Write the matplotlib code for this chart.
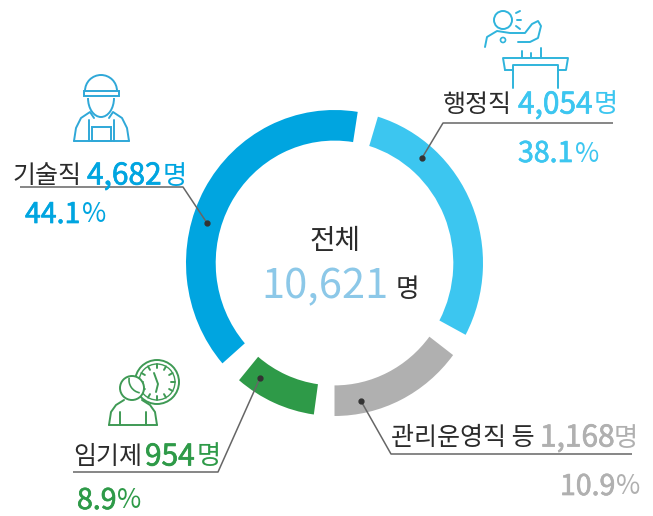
import numpy as np
import matplotlib
matplotlib.use("Agg")
import matplotlib.pyplot as plt
import matplotlib.patheffects as pe
from matplotlib.patches import Circle, Arc, Rectangle

plt.rcParams['font.family'] = ['Noto Sans CJK KR', 'DejaVu Sans']

# arcs are not to scale in the original, spans are read off the picture (degrees)
categories = ["행정직", "관리운영직 등", "임기제", "기술직"]
counts = ["4,054", "1,168", "954", "4,682"]
percents = ["38.1", "10.9", "8.9", "44.1"]
arc_spans = [101, 53, 32, 140]
gap_spans = [9, 8, 9, 8]
colors = ["#3CC6F0", "#B0B0B0", "#2E9A48", "#00A5E0"]
total_title = "전체"
total_count = "10,621"
unit = "명"

W, H = 653, 516
fig = plt.figure(figsize=(W / 100, H / 100), dpi=100)

# ring is slightly taller than wide in the original, so it gets its own axes
ring = fig.add_axes([186 / W, 1 - 416 / H, 297 / W, 306 / H])
spans, span_colors = [], []
for s, g, col in zip(arc_spans, gap_spans, colors):
    spans += [s, g]
    span_colors += [col, "none"]
ring.pie(spans, colors=span_colors, startangle=73, counterclock=False, radius=1,
         wedgeprops=dict(width=0.2, linewidth=0))
ring.set_aspect("auto")
ring.set_xlim(-1, 1)
ring.set_ylim(-1, 1)
ring.axis("off")

# everything else is in pixel coords
ax = fig.add_axes([0, 0, 1, 1])
ax.set_xlim(0, W)
ax.set_ylim(H, 0)
ax.axis("off")

DARK = "#2b2b2b"


def thick(color, w=0.5):
    return [pe.withStroke(linewidth=w, foreground=color)]


def label(x_name, x_num, x_unit, y, name, num, color):
    ax.text(x_name, y, name, fontsize=18, color=DARK, va="center", ha="left")
    ax.text(x_num, y, num, fontsize=21.5, color=color, va="center", ha="left", path_effects=thick(color))
    ax.text(x_unit, y, unit, fontsize=19, color=color, va="center", ha="left", fontweight="light")


def pct(x, y, value, color):
    t = ax.text(x, y, value, fontsize=20.5, color=color, va="center", ha="left", path_effects=thick(color))
    bb = t.get_window_extent(fig.canvas.get_renderer())
    ax.text(x + bb.width + 1, y, "%", fontsize=19, color=color, va="center", ha="left", fontweight="light")


def leader(xs, ys):
    ax.plot(xs, ys, color="#666666", lw=1.1, solid_capstyle="butt")
    ax.plot(xs[-1], ys[-1], "o", color="#333333", ms=3.5)


label(443, 518, 594, 105, categories[0], counts[0], colors[0])
pct(518, 154, percents[0], colors[0])
leader([613, 443, 422], [123, 123, 158])

label(391, 540, 614, 438, categories[1], counts[1], colors[1])
pct(560, 487, percents[1], colors[1])
leader([632, 391, 361], [454, 454, 401])

label(73, 145, 197, 457, categories[2], counts[2], colors[2])
pct(77, 501, percents[2], colors[2])
leader([73, 218, 260], [472, 472, 378])

label(12, 87, 163, 176, categories[3], counts[3], colors[3])
pct(25, 215, percents[3], colors[3])
leader([20, 183, 207], [187, 187, 223])

ax.text(335, 241, total_title, fontsize=20, color=DARK, ha="center", va="center")
ax.text(261, 287, total_count, fontsize=30, color="#8CC8E8", ha="left", va="center")
ax.text(396, 290, unit, fontsize=18.5, color=DARK, ha="left", va="center")


def icon_line(xs, ys, color):
    ax.plot(xs, ys, color=color, lw=1.4, solid_capstyle="round", solid_joinstyle="round")


# speaker icon
c = "#2FB4DC"
ax.add_patch(Circle((503, 20), 9, fill=False, ec=c, lw=1.4))
icon_line([485, 487, 497, 510, 525, 532, 538, 541, 538, 530, 518],
          [47, 37, 31, 33, 33, 24, 21, 26, 38, 42, 42], c)
ax.add_patch(Circle((503, 40), 2.5, fill=False, ec=c, lw=1.2))
icon_line([516, 520], [13, 11], c)
icon_line([517, 521], [20, 20], c)
icon_line([516, 520], [26, 29], c)
icon_line([505, 503, 568, 566, 558], [70, 58, 58, 70, 70], c)
icon_line([505, 513], [70, 70], c)
icon_line([513, 513, 558, 558], [88, 65, 65, 88], c)
icon_line([522, 522], [51, 57], c)
icon_line([531, 531], [53, 57], c)
icon_line([541, 541], [48, 57], c)

# worker icon
c = "#2FA8D8"
ax.add_patch(Arc((101, 91), 32, 32, theta1=180, theta2=360, ec=c, lw=1.4))
ax.add_patch(Rectangle((84, 91), 35, 5, fill=False, ec=c, lw=1.4))
ax.add_patch(Arc((101, 98), 26, 38, theta1=0, theta2=180, ec=c, lw=1.4))
icon_line([74, 76, 81, 90, 94], [141, 128, 118, 112, 118], c)
icon_line([129, 127, 122, 113, 109], [141, 128, 118, 112, 118], c)
icon_line([74, 129], [141, 141], c)
ax.add_patch(Rectangle((92, 127), 19, 14, fill=False, ec=c, lw=1.4))
icon_line([89, 89], [120, 141], c)
icon_line([114, 114], [120, 141], c)

# clock icon
c = "#3F9A55"
ax.add_patch(Circle((157, 382), 22, fill=False, ec=c, lw=1.4))
ax.add_patch(Circle((157, 382), 18, fill=False, ec=c, lw=1))
icon_line([154, 158, 156], [373, 384, 392], c)
for a in np.arange(0, 360, 30):
    s, co = np.sin(np.radians(a)), np.cos(np.radians(a))
    icon_line([157 + 14 * s, 157 + 18 * s], [382 - 14 * co, 382 - 18 * co], c)
ax.add_patch(Circle((132, 388), 12, ec=c, fc="white", lw=1.4, zorder=3))
ax.add_patch(Arc((142, 380), 26, 26, theta1=100, theta2=190, ec=c, lw=1.2, zorder=4))
icon_line([109, 111, 116, 124], [425, 412, 405, 400], c)
icon_line([157, 155, 150, 142], [425, 412, 405, 400], c)
icon_line([109, 157], [425, 425], c)
icon_line([120, 120], [412, 425], c)
icon_line([146, 146], [412, 425], c)

fig.savefig("out.png", dpi=100)
